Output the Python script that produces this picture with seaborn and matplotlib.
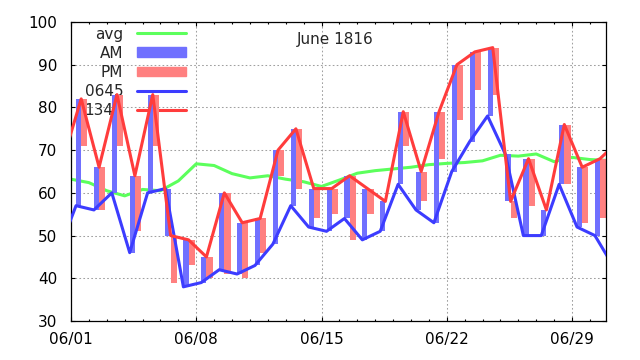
import numpy as np
import pandas as pd
import matplotlib
matplotlib.use("Agg")
import matplotlib.pyplot as plt
import matplotlib.dates as mdates
from matplotlib.patches import Patch
from matplotlib.lines import Line2D
import seaborn as sns

# ---------------- data ----------------
title = "June 1816"
series_labels = ["avg", "AM", "PM", "0645", "1340"]

# daily readings for the lines, 31 May .. 1 July 1816
line_days = pd.date_range("1816-05-31", "1816-07-01", freq="D")
temp_0645 = [46, 57, 56, 60, 46, 60, 61, 38, 39, 42, 41, 43, 48, 57, 52, 51,
             54, 49, 51, 62, 56, 53, 65, 72, 78, 69, 50, 50, 62, 52, 50, 43]
temp_1340 = [68, 82, 66, 83, 64, 83, 50, 49, 45, 60, 53, 54, 70, 75, 61, 61,
             64, 61, 58, 79, 65, 79, 90, 93, 94, 58, 68, 56, 76, 66, 68, 72]

# evening readings (end of the PM bars), 1 June .. 30 June
bar_days = pd.date_range("1816-06-01", "1816-06-30", freq="D")
temp_eve = [71, 56, 71, 51, 71, 39, 43, 40, 41, 40, 46, 64, 61, 54, 55, 49,
            55, 58, 71, 58, 68, 77, 84, 83, 54, 57, 56, 62, 53, 54]

# running average, 1 June .. 1 July
avg_days = pd.date_range("1816-06-01", "1816-07-01", freq="D")
avg_temp = [63.2, 62.4, 60.5, 59.3, 60.8, 60.5, 62.8, 66.8, 66.4, 64.5, 63.5,
            64.0, 63.2, 62.6, 61.5, 63.0, 64.6, 65.2, 65.6, 66.0, 66.6, 66.9,
            67.1, 67.5, 68.8, 68.6, 69.1, 67.3, 68.3, 67.8, 67.6]

x_tick_labels = ["06/01", "06/08", "06/15", "06/22", "06/29"]
y_ticks = [30, 40, 50, 60, 70, 80, 90, 100]

t_am = pd.Timedelta(hours=6, minutes=45)
t_pm = pd.Timedelta(hours=13, minutes=40)
t_ev = pd.Timedelta(hours=22)

# ---------------- style ----------------
c_avg = "#5cff5c"
c_am_bar = "#7070ff"
c_pm_bar = "#ff8080"
c_0645 = "#3c3cff"
c_1340 = "#ff3c3c"

sns.set_theme(style="ticks")
plt.rcParams["font.family"] = ["DejaVu Sans"]

fig = plt.figure(figsize=(6.4, 3.6), dpi=100)
ax = fig.add_axes([71 / 640, 39 / 360, 535 / 640, 299 / 360])

df_avg = pd.DataFrame({"time": avg_days, "temp": avg_temp})
df_am = pd.DataFrame({"time": line_days + t_am, "temp": temp_0645})
df_pm = pd.DataFrame({"time": line_days + t_pm, "temp": temp_1340})

sns.lineplot(data=df_avg, x="time", y="temp", ax=ax, color=c_avg,
             linewidth=2.2, zorder=1)

# floating bars
am_lo = np.array(temp_0645[1:31], dtype=float)
pm_v = np.array(temp_1340[1:31], dtype=float)
ev_v = np.array(temp_eve, dtype=float)
one_day = pd.Timedelta(days=1)
ax.bar(mdates.date2num(bar_days + t_am), pm_v - am_lo, bottom=am_lo,
       width=(t_pm - t_am) / one_day, align="edge", color=c_am_bar,
       linewidth=0, zorder=2)
ax.bar(mdates.date2num(bar_days + t_pm), ev_v - pm_v, bottom=pm_v,
       width=(t_ev - t_pm) / one_day, align="edge", color=c_pm_bar,
       linewidth=0, zorder=2)

sns.lineplot(data=df_am, x="time", y="temp", ax=ax, color=c_0645,
             linewidth=2.2, zorder=3)
sns.lineplot(data=df_pm, x="time", y="temp", ax=ax, color=c_1340,
             linewidth=2.2, zorder=4)

# ---------------- axes ----------------
x0 = mdates.date2num(pd.Timestamp("1816-06-01"))
ax.set_xlim(x0, x0 + 29.9)
ax.set_ylim(30, 100)
tick_dates = pd.to_datetime(["1816/" + s for s in x_tick_labels])
ax.set_xticks(mdates.date2num(tick_dates), labels=x_tick_labels)
ax.xaxis.set_minor_locator(mdates.DayLocator())
ax.set_yticks(y_ticks, labels=[str(v) for v in y_ticks])
ax.set_xlabel("")
ax.set_ylabel("")

ax.tick_params(which="both", direction="in", top=True, right=True,
               colors="black", labelsize=11)
ax.tick_params(which="major", length=3.1, width=0.8)
ax.tick_params(which="minor", length=1.6, width=0.8)
ax.tick_params(axis="y", pad=10)
ax.tick_params(axis="x", pad=8)
for s in ax.spines.values():
    s.set_color("black")
    s.set_linewidth(0.9)

ax.grid(True, which="major", color="#a0a0a0", linestyle=(0, (1.6, 2.2)),
        linewidth=0.75)
ax.set_axisbelow(True)

# ---------------- legend (gnuplot style) ----------------
handles = [Line2D([], [], color=c_avg, lw=2.2),
           Patch(color=c_am_bar),
           Patch(color=c_pm_bar),
           Line2D([], [], color=c_0645, lw=2.2),
           Line2D([], [], color=c_1340, lw=2.2)]
leg = ax.legend(handles, series_labels, loc="upper right",
                bbox_to_anchor=(186 / 640, 1 - 26.5 / 360),
                bbox_transform=fig.transFigure, frameon=False,
                markerfirst=False, handlelength=3.2, handletextpad=0.9,
                labelspacing=0.27, borderpad=0, borderaxespad=0,
                handleheight=0.6, fontsize=11)
leg.set_zorder(1.5)

fig.text(335 / 640, 1 - 44.3 / 360, title, ha="center", va="baseline",
         fontsize=11)

fig.savefig("out.png", dpi=100)
